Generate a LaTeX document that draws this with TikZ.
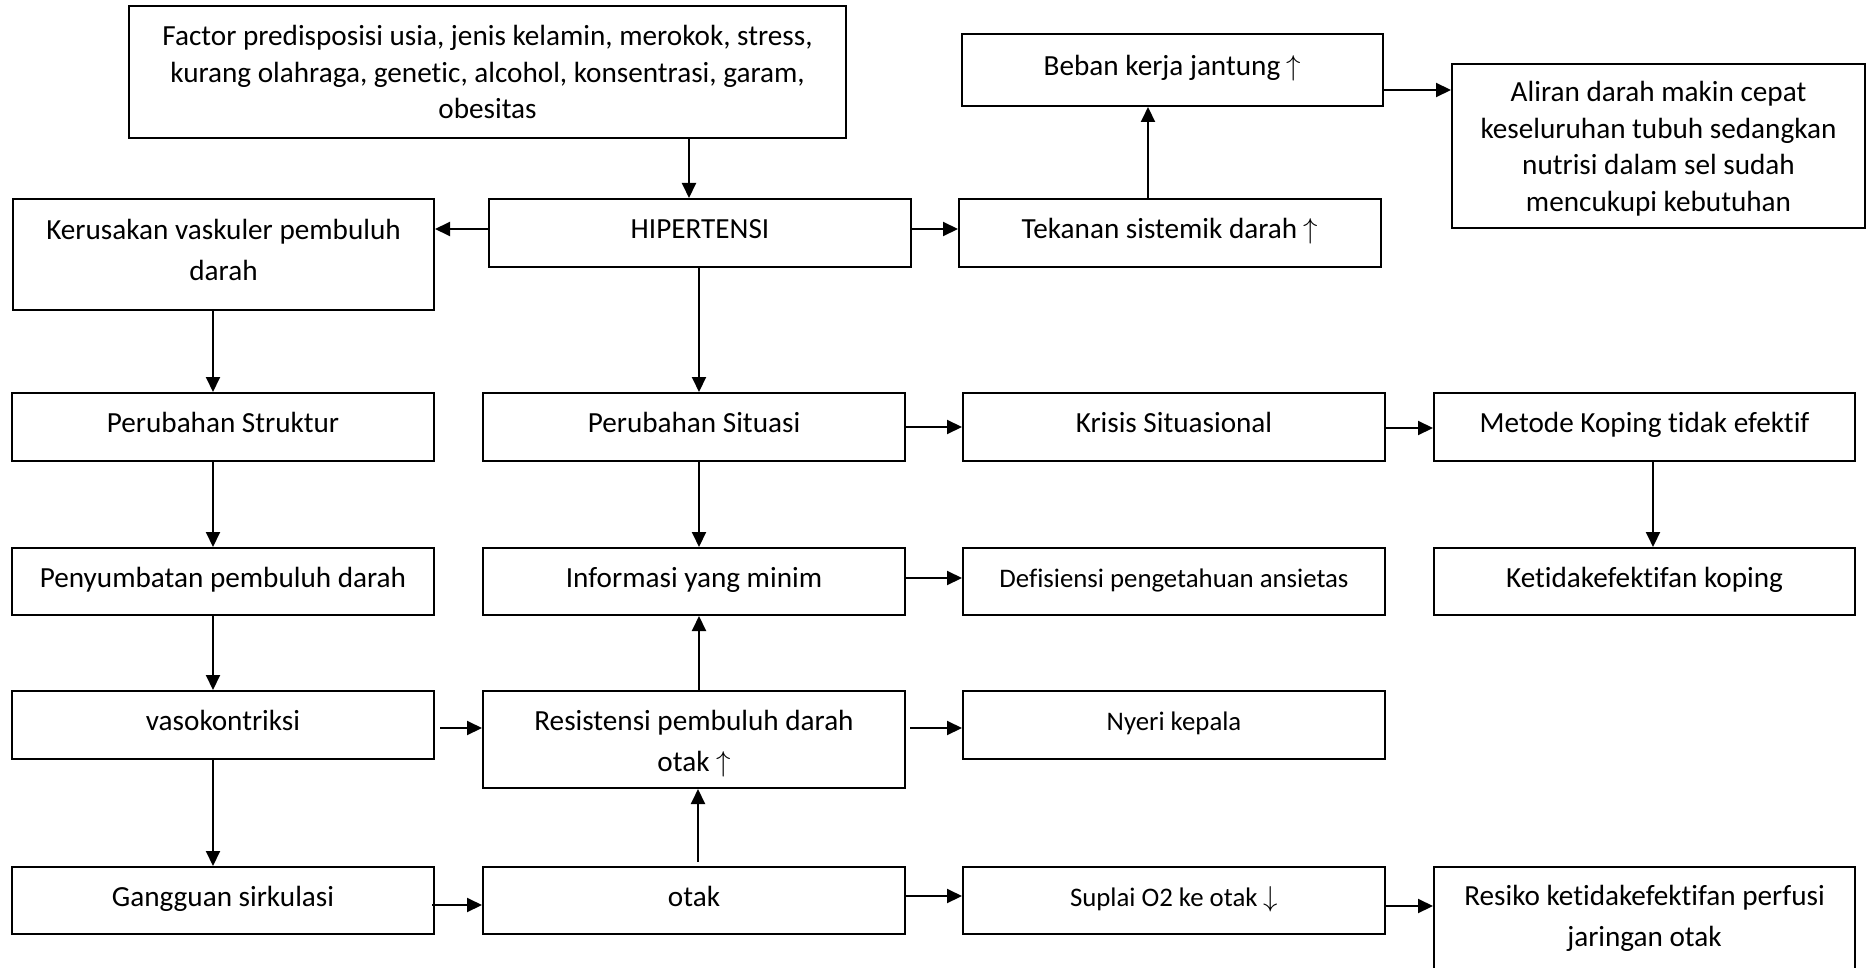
\documentclass[tikz,border=0pt]{standalone}
\usepackage{fontspec}
\setmainfont{Carlito}[Ligatures={NoCommon}]
\usetikzlibrary{arrows.meta}

% strut pengatur posisi baris
\newcommand{\tinggi}[1]{\rule{0pt}{#1}}
\newcommand{\dalam}[1]{\rule[-#1]{0pt}{#1}}

\begin{document}
\begin{tikzpicture}[x=0.5pt, y=-0.5pt,
        kotak/.style={draw, line width=1pt, inner sep=0pt, align=center, font=\fontsize{14.6}{18.3}\selectfont},
        satu/.style={text height=10pt, text depth=4.5pt},
        kecil/.style={font=\fontsize{13.4}{16.5}\selectfont, text height=10pt, text depth=4.5pt},
        renggang/.style={font=\fontsize{14.6}{20.5}\selectfont},
        panah/.style={-{Triangle[length=7.5pt, width=7pt]}, line width=1pt}]
        \useasboundingbox (0,0) rectangle (1867,968);
        \clip (0,0) rectangle (1867,968);

        \node (faktor) at ( 487.5,  72) [kotak, minimum width=358.5pt, minimum height=66pt] {Factor predisposisi usia, jenis kelamin, merokok, stress,\\kurang olahraga, genetic, alcohol, konsentrasi, garam,\\obesitas};
        \node (hip)    at ( 700,   233) [kotak, satu, minimum width=211pt, minimum height=34pt] {HIPERTENSI};
        \node (rusak)  at ( 223.5, 254.5) [kotak, renggang, minimum width=210.5pt, minimum height=55.5pt] {\tinggi{12pt}Kerusakan vaskuler pembuluh\\darah\dalam{7pt}};
        \node (tekan)  at (1170,   233) [kotak, satu, minimum width=211pt, minimum height=34pt] {Tekanan sistemik darah $\uparrow$};
        \node (beban)  at (1172.5,  70) [kotak, satu, minimum width=210.5pt, minimum height=36pt] {Beban kerja jantung $\uparrow$};
        \node (aliran) at (1658.5, 146) [kotak, minimum width=206.5pt, minimum height=82pt] {\tinggi{13pt}Aliran darah makin cepat\\keseluruhan tubuh sedangkan\\nutrisi dalam sel sudah\\mencukupi kebutuhan};

        \node (struktur) at ( 223,   427) [kotak, satu, minimum width=211pt, minimum height=34pt] {Perubahan Struktur};
        \node (situasi)  at ( 694,   427) [kotak, satu, minimum width=211pt, minimum height=34pt] {Perubahan Situasi};
        \node (krisis)   at (1174,   427) [kotak, satu, minimum width=211pt, minimum height=34pt] {Krisis Situasional};
        \node (metode)   at (1644.5, 427) [kotak, satu, minimum width=210.5pt, minimum height=34pt] {Metode Koping tidak efektif};

        \node (sumbat)   at ( 223,   581.5) [kotak, satu, minimum width=211pt, minimum height=33.5pt] {Penyumbatan pembuluh darah};
        \node (info)     at ( 694,   581.5) [kotak, satu, minimum width=211pt, minimum height=33.5pt] {Informasi yang minim};
        \node (defisit)  at (1174,   581.5) [kotak, kecil, minimum width=211pt, minimum height=33.5pt] {Defisiensi pengetahuan ansietas};
        \node (koping)   at (1644.5, 581.5) [kotak, satu, minimum width=210.5pt, minimum height=33.5pt] {Ketidakefektifan koping};

        \node (vaso)     at ( 223,   725) [kotak, satu, minimum width=211pt, minimum height=34pt] {vasokontriksi};
        \node (resist)   at ( 694, 739.5) [kotak, renggang, minimum width=211pt, minimum height=48.5pt] {\tinggi{14pt}Resistensi pembuluh darah\\otak $\uparrow$\dalam{3pt}};
        \node (nyeri)    at (1174,   725) [kotak, kecil, minimum width=211pt, minimum height=34pt] {Nyeri kepala};

        \node (sirkulasi) at ( 223,   900.5) [kotak, satu, minimum width=211pt, minimum height=33.5pt] {Gangguan sirkulasi};
        \node (otak)      at ( 694,   900.5) [kotak, satu, minimum width=211pt, minimum height=33.5pt] {otak};
        \node (suplai)    at (1174,   900.5) [kotak, kecil, minimum width=211pt, minimum height=33.5pt] {Suplai O2 ke otak $\downarrow$};
        \node (resiko)    at (1644.5, 921) [kotak, renggang, minimum width=210.5pt, minimum height=54pt] {\tinggi{12pt}Resiko ketidakefektifan perfusi\\jaringan otak\dalam{7.5pt}};

        % faktor -> hip
        \draw[panah] (faktor.south -| 689,0) -- (hip.north -| 689,0);
        % hip -> rusak
        \draw[panah] (hip.west |- 0,229) -- (rusak.east |- 0,229);
        % hip -> tekan
        \draw[panah] (hip.east |- 0,229) -- (tekan.west |- 0,229);
        % tekan -> beban
        \draw[panah] (tekan.north -| 1148,0) -- (beban.south -| 1148,0);
        % beban -> aliran
        \draw[panah] (beban.east |- 0,90) -- (aliran.west |- 0,90);
        % rusak -> struktur
        \draw[panah] (rusak.south -| 213,0) -- (struktur.north -| 213,0);
        % hip -> situasi
        \draw[panah] (hip.south -| 699,0) -- (situasi.north -| 699,0);
        % struktur -> sumbat
        \draw[panah] (struktur.south -| 213,0) -- (sumbat.north -| 213,0);
        % situasi -> info
        \draw[panah] (situasi.south -| 699,0) -- (info.north -| 699,0);
        % situasi -> krisis
        \draw[panah] (situasi.east |- 0,427) -- (krisis.west |- 0,427);
        % krisis -> metode
        \draw[panah] (krisis.east |- 0,428) -- (metode.west |- 0,428);
        % metode -> koping
        \draw[panah] (metode.south -| 1653,0) -- (koping.north -| 1653,0);
        % sumbat -> vaso
        \draw[panah] (sumbat.south -| 213,0) -- (vaso.north -| 213,0);
        % info -> defisit
        \draw[panah] (info.east |- 0,578) -- (defisit.west |- 0,578);
        % resist -> info
        \draw[panah] (resist.north -| 699,0) -- (info.south -| 699,0);
        % vaso -> resist
        \draw[panah] ([xshift=2.5pt]vaso.east |- 0,728) -- (resist.west |- 0,728);
        % resist -> nyeri
        \draw[panah] ([xshift=2pt]resist.east |- 0,728) -- (nyeri.west |- 0,728);
        % vaso -> sirkulasi
        \draw[panah] (vaso.south -| 213,0) -- (sirkulasi.north -| 213,0);
        % otak -> resist
        \draw[panah] ([yshift=2pt]otak.north -| 698,0) -- (resist.south -| 698,0);
        % sirkulasi -> otak
        \draw[panah] ([xshift=-1.5pt]sirkulasi.east |- 0,905) -- (otak.west |- 0,905);
        % otak -> suplai
        \draw[panah] (otak.east |- 0,896) -- (suplai.west |- 0,896);
        % suplai -> resiko
        \draw[panah] (suplai.east |- 0,906) -- (resiko.west |- 0,906);
\end{tikzpicture}
\end{document}
